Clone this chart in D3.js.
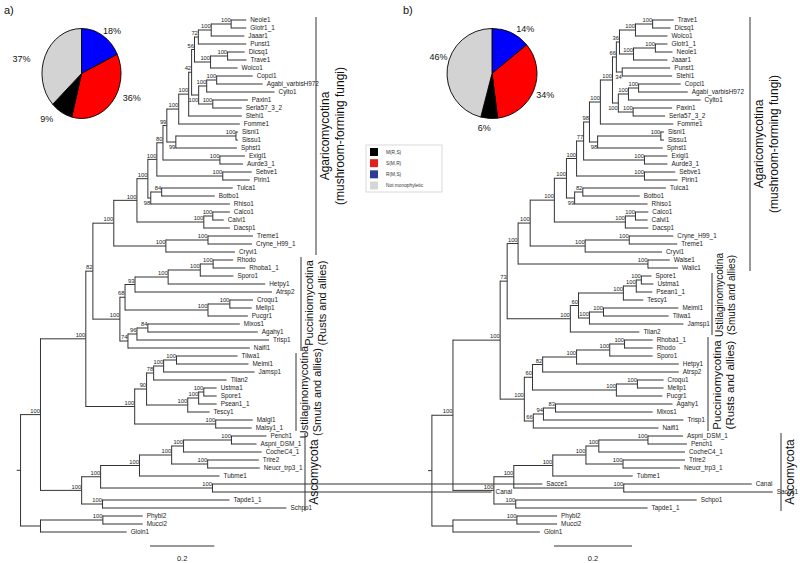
<!DOCTYPE html>
<html><head><meta charset="utf-8">
<script src="https://d3js.org/d3.v7.min.js"></script>
<style>body{margin:0;background:#fff}svg{display:block}text{font-family:"Liberation Sans",Arial,sans-serif}</style>
</head><body><div id="chart"></div>
<script>
// ---------------- DATA ----------------
// Phylogenies (Newick, branch lengths in substitutions/site, internal labels = bootstrap support)
const treeA =
"(((((((((((((((((Neole1:0.047,Glotr1_1:0.047)100:0.062,Jaaar1:0.103)100:0.040,Punst1:0.149)72:0.012," +
"((Dicsq1:0.053,Trave1:0.059)100:0.053,Wolco1:0.084)100:0.050)56:0.009," +
"(((Copci1:0.112,Agabi_varbisH972:0.143)100:0.031,Cylto1:0.211)100:0.025,(Paxin1:0.109,Serla57_3_2:0.090)100:0.044)100:0.022)42:0.009," +
"Stehi1:0.165)100:0.031," +
"Fomme1:0.190)100:0.037," +
"((Sisni1:0.006,Sissu1:0.006)100:0.187,Sphst1:0.190)99:0.028)99:0.012," +
"(Exigl1:0.078,Aurde3_1:0.072)100:0.177)80:0.019," +
"(Sebve1:0.090,Pirin1:0.084)100:0.205)100:0.028," +
"((Tulca1:0.221,Botbo1:0.165)84:0.034,Rhiso1:0.246)98:0.009)100:0.034," +
"((Calco1:0.053,Calvi1:0.034)100:0.028,Dacsp1:0.081)100:0.208)100:0.072," +
"((Treme1:0.140,Cryne_H99_1:0.137)100:0.131,Cryvi1:0.215)100:0.162)100:0.065," +
"((((((Rhodo:0.062,Rhoba1_1:0.100)100:0.040,Sporo1:0.103)100:0.100,Hetpy1:0.302)100:0.103,Atrsp2:0.426)93:0.031," +
"((Croqu1:0.072,Mellp1:0.068)100:0.068,Pucgr1:0.124)100:0.258)68:0.016," +
"(((Mixos1:0.286,Agahy1:0.342)84:0.034,Trisp1:0.411)96:0.028,Naifl1:0.379)74:0.025)100:0.084)82:0.022," +
"(((((Tilwa1:0.190,Meimi1:0.224)100:0.040,Jamsp1:0.283)100:0.031,Tilan2:0.227)78:0.022," +
"(((Ustma1:0.040,Spore1:0.040)100:0.016,Psean1_1:0.056)100:0.034,Tescy1:0.068)100:0.128)90:0.037," +
"(Malgl1:0.115,Malsy1_1:0.112)100:0.252)100:0.152)100:0.141," +
"((((((Pench1:0.109,Aspni_DSM_1:0.078)100:0.149,CocheC4_1:0.243)100:0.037,(Trire2:0.159,Neucr_trp3_1:0.162)100:0.112)100:0.100," +
"Tubme1:0.249)100:0.121,(Sacce1:1.026,Canal:0.868)100:0.348)100:0.059," +
"(Tapde1_1:0.395,Schpo1:0.572)100:0.065)100:0.128)100:0.062," +
"((Phybl2:0.124,Mucci2:0.124)100:0.194,Gloin1:0.268):0.062):0.012;";

const treeB =
"(((((((((((((((((Trave1:0.054,Dicsq1:0.046)100:0.044,Wolco1:0.082)100:0.041," +
"((Glotr1_1:0.031,Neole1:0.044)100:0.056,Jaaar1:0.087)100:0.036)36:0.008," +
"(Punst1:0.123,Stehi1:0.128)34:0.015)66:0.010," +
"(((Copci1:0.108,Agabi_varbisH972:0.126)100:0.026,Cylto1:0.185)100:0.026,(Paxin1:0.100,Serla57_3_2:0.082)100:0.038)100:0.015)100:0.031," +
"Fomme1:0.187)100:0.028," +
"((Sisni1:0.008,Sissu1:0.008)100:0.162,Sphst1:0.167)98:0.021)98:0.015," +
"(Exigl1:0.059,Aurde3_1:0.059)100:0.156)77:0.018," +
"(Sebve1:0.079,Pirin1:0.085)100:0.174)100:0.026," +
"((Tulca1:0.213,Botbo1:0.146)82:0.021,Rhiso1:0.187)99:0.021)100:0.031," +
"((Calco1:0.033,Calvi1:0.031)100:0.026,Dacsp1:0.059)100:0.182)100:0.062," +
"((Cryne_H99_1:0.113,Treme1:0.123)100:0.113,Cryvi1:0.197)100:0.141)100:0.031," +
"(Walse1:0.056,Walic1:0.077)100:0.333)100:0.028," +
"(((((Spore1:0.026,Ustma1:0.031)100:0.013,Psean1_1:0.041)100:0.033,Tescy1:0.051)100:0.115," +
"((Meimi1:0.192,Tilwa1:0.167)100:0.036,Jamsp1:0.241)100:0.028)60:0.021,Tilan2:0.177)100:0.162)73:0.018," +
"((((((Rhoba1_1:0.072,Rhodo:0.072)100:0.038,Sporo1:0.110)100:0.085,Hetpy1:0.262)100:0.087,Atrsp2:0.349)82:0.026," +
"((Croqu1:0.067,Mellp1:0.067)100:0.054,Pucgr1:0.118)100:0.215)60:0.021," +
"(((Agahy1:0.300,Mixos1:0.249)83:0.031,Trisp1:0.359)94:0.026,Naifl1:0.321)66:0.023)100:0.062)100:0.121," +
"((((((Aspni_DSM_1:0.090,Pench1:0.100)100:0.126,CocheC4_1:0.221)100:0.033,(Trire2:0.159,Neucr_trp3_1:0.146)100:0.095)100:0.085," +
"Tubme1:0.205)100:0.100,(Canal:0.328,Sacce1:0.382)100:0.282)100:0.051," +
"(Schpo1:0.464,Tapde1_1:0.338)100:0.056)100:0.105)100:0.054," +
"((Phybl2:0.103,Mucci2:0.103)100:0.164,Gloin1:0.223):0.054):0.010;";

// Pie charts: share of topologies (clockwise from 12 o'clock)
const pieCategories = ["R(M,S)", "S(M,R)", "M(R,S)", "Not monophyletic"];
const pieValuesA = [18, 36, 9, 37];
const pieValuesB = [14, 34, 6, 46];
// Legend order
const legendLabels = ["M(R,S)", "S(M,R)", "R(M,S)", "Not monophyletic"];
// Clades (bracket spans by first/last leaf)
const cladesA = [
  {title:"Agaricomycotina", sub:"(mushroom-forming fungi)", from:"Neole1", to:"Cryvi1"},
  {title:"Pucciniomycotina", sub:"(Rusts and allies)", from:"Rhodo", to:"Naifl1"},
  {title:"Ustilaginomycotina", sub:"(Smuts and allies)", from:"Tilwa1", to:"Malsy1_1"},
  {title:"Ascomycota", sub:"", from:"Pench1", to:"Schpo1"}
];
const cladesB = [
  {title:"Agaricomycotina", sub:"(mushroom-forming fungi)", from:"Trave1", to:"Walic1"},
  {title:"Ustilaginomycotina", sub:"(Smuts and allies)", from:"Spore1", to:"Tilan2"},
  {title:"Pucciniomycotina", sub:"(Rusts and allies)", from:"Rhoba1_1", to:"Naifl1"},
  {title:"Ascomycota", sub:"", from:"Aspni_DSM_1", to:"Tapde1_1"}
];
const scaleBarValue = 0.2;

// ---------------- STYLE / LAYOUT ----------------
const pieColors = {"R(M,S)":"#0000ff","S(M,R)":"#ff0000","M(R,S)":"#000000","Not monophyletic":"#d3d3d3"};
const legendColors = {"R(M,S)":"#2b3d98","S(M,R)":"#e3201b","M(R,S)":"#000000","Not monophyletic":"#d6d6d6"};
const panels = [
  {tree: treeA, letter:"a)", lx:4, x0:16.7, ppu:321.5, barX:150, clades:cladesA,
   cladeStyle:[{x:316,dy:0,fs:12},{x:301,dy:-1,fs:11},{x:296,dy:0,fs:11},{x:305,dy:0,fs:12}],
   below:["Sisni1|Sphst1","Tulca1|Rhiso1","Copci1|Serla57_3_2"],
   pie:{values:pieValuesA, cx:81.5, cy:73.5, sx:0.878, nudge:[[-3,1],[6,-9],[-5,1],[-9,6]]}},
  {tree: treeB, letter:"b)", lx:403, x0:428, ppu:390, barX:554, clades:cladesB,
   cladeStyle:[{x:750,dy:0,fs:12},{x:712,dy:-9,fs:10},{x:708,dy:1,fs:11.5},{x:781,dy:0,fs:12}],
   below:["Sisni1|Sphst1","Tulca1|Rhiso1","Punst1|Stehi1","Copci1|Serla57_3_2"],
   pie:{values:pieValuesB, cx:492, cy:73.5, sx:1, nudge:[[2,2],[-4,2],[2,2],[7,-10]]}}
];

function parseNewick(str){
  const s = str.replace(/\s+/g,"");
  let i = 0;
  function node(){
    const n = {};
    if (s[i] === "("){
      n.children = [];
      i++; n.children.push(node());
      while (s[i] === ","){ i++; n.children.push(node()); }
      i++;
    }
    let name = "";
    while (i < s.length && !",():;".includes(s[i])) name += s[i++];
    n.name = name;
    n.length = 0;
    if (s[i] === ":"){ i++; let l=""; while (i < s.length && !",();".includes(s[i])) l += s[i++]; n.length = +l; }
    return n;
  }
  return node();
}

const svg = d3.select("#chart").append("svg").attr("width",800).attr("height",563);
const yScale = d3.scaleLinear().domain([0,64]).range([20,532]);
const lineColor = "#333";

panels.forEach(p => {
  const root = d3.hierarchy(parseNewick(p.tree));
  const x = d3.scaleLinear().domain([0,1]).range([p.x0, p.x0 + p.ppu]);
  root.each(n => { n.dist = (n.parent ? n.parent.dist : 0) + n.data.length; });
  const leaves = root.leaves();
  leaves.forEach((l,k) => l.yy = yScale(k));
  root.eachAfter(n => { if (n.children) n.yy = (n.children[0].yy + n.children[n.children.length-1].yy)/2; });
  const byName = {}; leaves.forEach(l => byName[l.data.name] = l);

  const g = svg.append("g");
  g.selectAll("line.h").data(root.descendants()).join("line")
    .attr("x1", n => x(n.parent ? n.parent.dist : 0)).attr("x2", n => x(n.dist))
    .attr("y1", n => n.yy).attr("y2", n => n.yy)
    .attr("stroke", lineColor).attr("stroke-width", 1);
  g.selectAll("line.v").data(root.descendants().filter(n => n.children)).join("line")
    .attr("x1", n => x(n.dist)).attr("x2", n => x(n.dist))
    .attr("y1", n => n.children[0].yy - 0.5).attr("y2", n => n.children[n.children.length-1].yy + 0.5)
    .attr("stroke", lineColor).attr("stroke-width", 1);
  g.selectAll("text.leaf").data(leaves).join("text")
    .attr("x", n => x(n.dist) + 4).attr("y", n => n.yy).attr("dy","0.35em")
    .attr("font-size", 6.4).attr("fill","#222").text(n => n.data.name);
  const internal = root.descendants().filter(n => n.children && n.parent && n.data.name);
  g.selectAll("text.sup").data(internal).join("text")
    .attr("x", n => x(n.dist) - 0.5)
    .attr("y", n => { const lv = n.leaves(); const key = lv[0].data.name + "|" + lv[lv.length-1].data.name;
                      return p.below.includes(key) ? n.yy + 6.5 : n.yy - 1.8; })
    .attr("text-anchor","end").attr("font-size", 5.8).attr("fill","#222").text(n => n.data.name);

  const barLen = x(scaleBarValue) - x(0);
  g.append("line").attr("x1", p.barX).attr("x2", p.barX + barLen).attr("y1", 546).attr("y2", 546)
    .attr("stroke", lineColor).attr("stroke-width", 1);
  g.append("text").attr("x", p.barX + barLen/2).attr("y", 561).attr("text-anchor","middle")
    .attr("font-size", 7.5).attr("fill","#222").text(scaleBarValue);

  p.clades.forEach((c, k) => {
    const st = p.cladeStyle[k];
    const y1 = byName[c.from].yy - 3, y2 = byName[c.to].yy + 3, cx = st.x, cy = (y1+y2)/2 + st.dy;
    g.append("line").attr("x1", cx).attr("x2", cx).attr("y1", y1).attr("y2", y2)
      .attr("stroke", lineColor).attr("stroke-width", 1);
    g.append("text").attr("transform", `translate(${cx + 0.75*st.fs},${cy}) rotate(-90)`)
      .attr("text-anchor","middle").attr("dy","0.35em").attr("font-size", st.fs).attr("fill","#111").text(c.title);
    if (c.sub) g.append("text").attr("transform", `translate(${cx + 1.95*st.fs},${cy}) rotate(-90)`)
      .attr("text-anchor","middle").attr("dy","0.35em").attr("font-size", st.fs).attr("fill","#111").text(c.sub);
  });

  svg.append("text").attr("x", p.lx).attr("y", 14).attr("font-size", 11).attr("fill","#111").text(p.letter);

  const pie = d3.pie().sort(null).value(d => d.v);
  const arcs = pie(pieCategories.map((c,k) => ({c, v:p.pie.values[k]})));
  const R = 45;
  const arc = d3.arc().innerRadius(0).outerRadius(R);
  const pg = svg.append("g").attr("transform", `translate(${p.pie.cx},${p.pie.cy}) scale(${p.pie.sx},1)`);
  pg.selectAll("path").data(arcs).join("path").attr("d", arc)
    .attr("fill", d => pieColors[d.data.c]).attr("stroke","#000").attr("stroke-width",0.9)
    .attr("vector-effect","non-scaling-stroke");
  arcs.forEach((a,k) => {
    const mid = (a.startAngle + a.endAngle)/2, r = 52;
    const px = p.pie.cx + p.pie.sx * r * Math.sin(mid) + p.pie.nudge[k][0];
    const py = p.pie.cy - r * Math.cos(mid) + p.pie.nudge[k][1];
    svg.append("text").attr("x", px).attr("y", py).attr("dy","0.35em")
      .attr("text-anchor", Math.sin(mid) >= 0 ? "start" : "end")
      .attr("font-size", 9).attr("fill","#111").text(a.data.v + "%");
  });
});

const lg = svg.append("g");
lg.append("rect").attr("x", 366).attr("y", 145).attr("width", 76).attr("height", 47)
  .attr("fill","#fff").attr("stroke","#cfcfcf").attr("stroke-width",0.8);
const ly = d3.scalePoint().domain(legendLabels).range([152, 185.5]);
legendLabels.forEach(l => {
  lg.append("rect").attr("x", 370).attr("y", ly(l) - 4).attr("width", 8).attr("height", 8).attr("fill", legendColors[l]);
  lg.append("text").attr("x", 386).attr("y", ly(l)).attr("dy","0.35em").attr("font-size", 4.8).attr("fill","#333").text(l);
});
</script></body></html>
